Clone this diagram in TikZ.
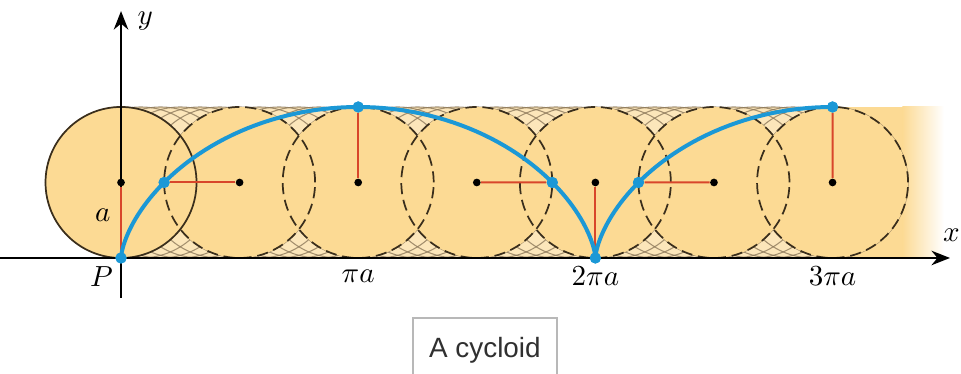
\documentclass[tikz,border=0pt]{standalone}
\usepackage{fontspec}
\usepackage{tikz}
\usetikzlibrary{arrows.meta,positioning,calc}
\newfontfamily\capfont{Liberation Sans}
\definecolor{discfill}{HTML}{FCDA94}
\definecolor{gapfill}{HTML}{FCE6BA}
\definecolor{rimink}{HTML}{3A2E1C}
\definecolor{traceink}{HTML}{8E7A5C}
\definecolor{cycblue}{HTML}{1B98D6}
\definecolor{spokered}{HTML}{D8462B}
\definecolor{capframe}{HTML}{B8B8B8}
\definecolor{captext}{HTML}{303030}
\tikzset{
  solidrim/.style={draw=rimink, line width=0.65pt},
  dashedrim/.style={draw=rimink, line width=0.65pt, dash pattern=on 4.2pt off 2.2pt},
  tracerim/.style={draw=traceink, line width=0.4pt, opacity=0.8},
  spoke/.style={draw=spokered, line width=0.75pt},
  cycloidpath/.style={draw=cycblue, line width=1.5pt},
  hubdot/.style={circle, fill=black, inner sep=0pt, minimum size=2.9pt},
  arcdot/.style={circle, fill=cycblue, inner sep=0pt, minimum size=4.2pt},
  axisline/.style={draw=black, line width=0.6pt, -{Stealth[length=7pt,width=5.5pt]}},
  mathlabel/.style={inner sep=1pt, font=\fontsize{11}{13}\selectfont},
  captionbox/.style={
    draw=capframe, fill=white, line width=0.6pt,
    font=\capfont\fontsize{10.5}{12}\selectfont, text=captext,
    text height=7.6pt, text depth=0pt,
    minimum width=1.907cm, minimum height=0.78cm
  }
}
\begin{document}
\begin{tikzpicture}
  \useasboundingbox (-1.603,-1.536) rectangle (11.126,3.417);

  % rolling band
  \fill[discfill] (0,1) circle (1);
  \fill[gapfill] (0,0) rectangle (10.35,2);
  \fill[discfill] ({3*pi},0) rectangle (10.35,2);
  \shade[left color=discfill, right color=white] (10.35,0) rectangle (10.9,2);

  % traces of the rolling circle
  \foreach \k in {0,...,36}
    \draw[tracerim] ({\k*pi/12},1) circle (1);
  \foreach \k in {0,...,6}
    \fill[discfill] ({\k*pi/2},1) circle (1);

  % circles at quarter turns
  \draw[solidrim] (0,1) circle (1);
  \foreach \k in {1,...,6}
    \draw[dashedrim] ({\k*pi/2},1) circle (1);

  % axes
  \coordinate (xstart) at (-1.603,0);
  \coordinate (xend) at (10.98,0);
  \coordinate (ystart) at (0,-0.53);
  \coordinate (yend) at (0,3.27);
  \draw[axisline] (xstart) -- (xend);
  \draw[axisline] (ystart) -- (yend);
  \node[mathlabel] (xlabel) at (11.0,0.3) {$x$};
  \node[mathlabel] (ylabel) at (0.32,3.14) {$y$};

  % hubs, points on the cycloid and radii
  \foreach \k in {0,...,6} {
    \pgfmathsetmacro\ang{\k*pi/2}
    \node[hubdot] (hub\k) at (\ang,1) {};
    \node[arcdot] (pt\k) at ({\ang-sin(\ang r)},{1-cos(\ang r)}) {};
    \draw[spoke] (hub\k) -- (pt\k);
  }

  \draw[cycloidpath] plot[domain=0:3*pi, samples=160, variable=\t]
    ({\t-sin(\t r)},{1-cos(\t r)});
  \foreach \k in {0,...,6}
    \node[arcdot] at (pt\k) {};

  % labels
  \node[mathlabel] (radlabel) at (-0.24,0.56) {$a$};
  \node[mathlabel] (plabel) at (-0.26,-0.24) {$P$};
  \node[mathlabel] (pilabel) at ({pi},-0.24) {$\pi a$};
  \node[mathlabel] (twopilabel) at ({2*pi},-0.24) {$2\pi a$};
  \node[mathlabel] (threepilabel) at ({3*pi},-0.24) {$3\pi a$};

  \node[captionbox] (caption) at (4.82,-1.185) {A cycloid};
\end{tikzpicture}
\end{document}
